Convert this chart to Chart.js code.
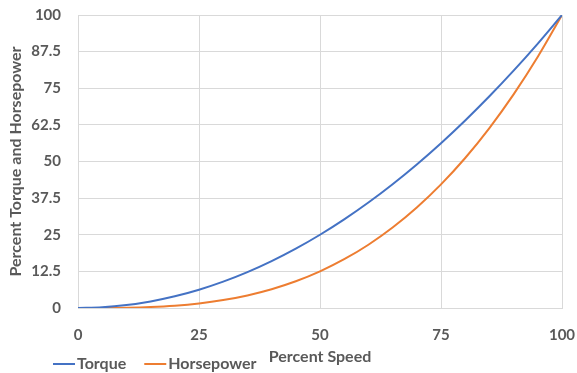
<!DOCTYPE html>
<html>
<head>
<meta charset="utf-8">
<script src="https://cdn.jsdelivr.net/npm/chart.js@4/dist/chart.umd.min.js"></script>
<style>
html,body{margin:0;padding:0;background:#fff;}
#wrap{width:577px;height:373px;position:relative;}
</style>
</head>
<body>
<div id="wrap"><canvas id="c"></canvas></div>
<script>
const speeds = [0,5,10,15,20,25,30,35,40,45,50,55,60,65,70,75,80,85,90,95,100];
const torque = [0,0.25,1,2.25,4,6.25,9,12.25,16,20.25,25,30.25,36,42.25,49,56.25,64,72.25,81,90.25,100];
const horsepower = [0,0.01,0.1,0.34,0.8,1.56,2.7,4.29,6.4,9.11,12.5,16.64,21.6,27.46,34.3,42.19,51.2,61.41,72.9,85.74,100];
const seriesNames = ["Torque","Horsepower"];
const seriesColors = ["#4472C4","#ED7D31"];
const yTicks = [0,12.5,25,37.5,50,62.5,75,87.5,100];
const xTicks = [0,25,50,75,100];

const FONT = "Lato, 'Open Sans', sans-serif";
const TXT = "#595959";
const GRID = "#D9D9D9";
const FS = 15;
const FT = 16;

const toPts = arr => speeds.map((s,i)=>({x:s,y:arr[i]}));

const legendPlugin = {
  id:'customLegend',
  afterDraw(chart){
    const ctx = chart.ctx;
    ctx.save();
    ctx.font = "bold " + FT + "px " + FONT;
    ctx.textBaseline = "middle";
    let x = 53;
    const y = 364;
    chart.data.datasets.forEach(ds=>{
      ctx.strokeStyle = ds.borderColor;
      ctx.lineWidth = 2;
      ctx.beginPath();
      ctx.moveTo(x, y);
      ctx.lineTo(x+22, y);
      ctx.stroke();
      ctx.fillStyle = TXT;
      ctx.fillText(ds.label, x+24, y);
      x += 24 + ctx.measureText(ds.label).width + 18;
    });
    ctx.restore();
  }
};

new Chart(document.getElementById('c'), {
  type:'line',
  data:{
    datasets:[
      {label:seriesNames[0], data:toPts(torque), borderColor:seriesColors[0], backgroundColor:seriesColors[0], borderWidth:2, pointRadius:0, cubicInterpolationMode:'monotone', fill:false},
      {label:seriesNames[1], data:toPts(horsepower), borderColor:seriesColors[1], backgroundColor:seriesColors[1], borderWidth:2, pointRadius:0, cubicInterpolationMode:'monotone', fill:false}
    ]
  },
  options:{
    responsive:true,
    maintainAspectRatio:false,
    animation:false,
    layout:{padding:{left:0,right:15,top:15,bottom:0}},
    plugins:{legend:{display:false}, tooltip:{enabled:false}},
    scales:{
      x:{
        type:'linear', min:0, max:100,
        afterBuildTicks(axis){ axis.ticks = xTicks.map(v=>({value:v})); },
        afterFit(axis){ axis.height = 65; axis.paddingLeft = 0; axis.paddingRight = 0; },
        grid:{color:GRID, drawTicks:false, lineWidth:1},
        border:{color:GRID},
        ticks:{color:TXT, font:{family:FONT, size:FS, weight:'bold'}, padding:18, maxRotation:0},
        title:{display:true, text:'Percent Speed', color:TXT, font:{family:FONT, size:FT, weight:'bold'}, padding:{top:0,bottom:7}}
      },
      y:{
        min:0, max:100,
        afterBuildTicks(axis){ axis.ticks = yTicks.map(v=>({value:v})); },
        afterFit(axis){ axis.width = 78; axis.paddingTop = 0; axis.paddingBottom = 0; },
        grid:{color:GRID, drawTicks:false, lineWidth:1},
        border:{display:false},
        ticks:{color:TXT, font:{family:FONT, size:FS, weight:'bold'}, padding:17},
        title:{display:true, text:'Percent Torque and Horsepower', color:TXT, font:{family:FONT, size:FT, weight:'bold'}, padding:{top:6,bottom:0}}
      }
    }
  },
  plugins:[legendPlugin]
});
</script>
</body>
</html>
